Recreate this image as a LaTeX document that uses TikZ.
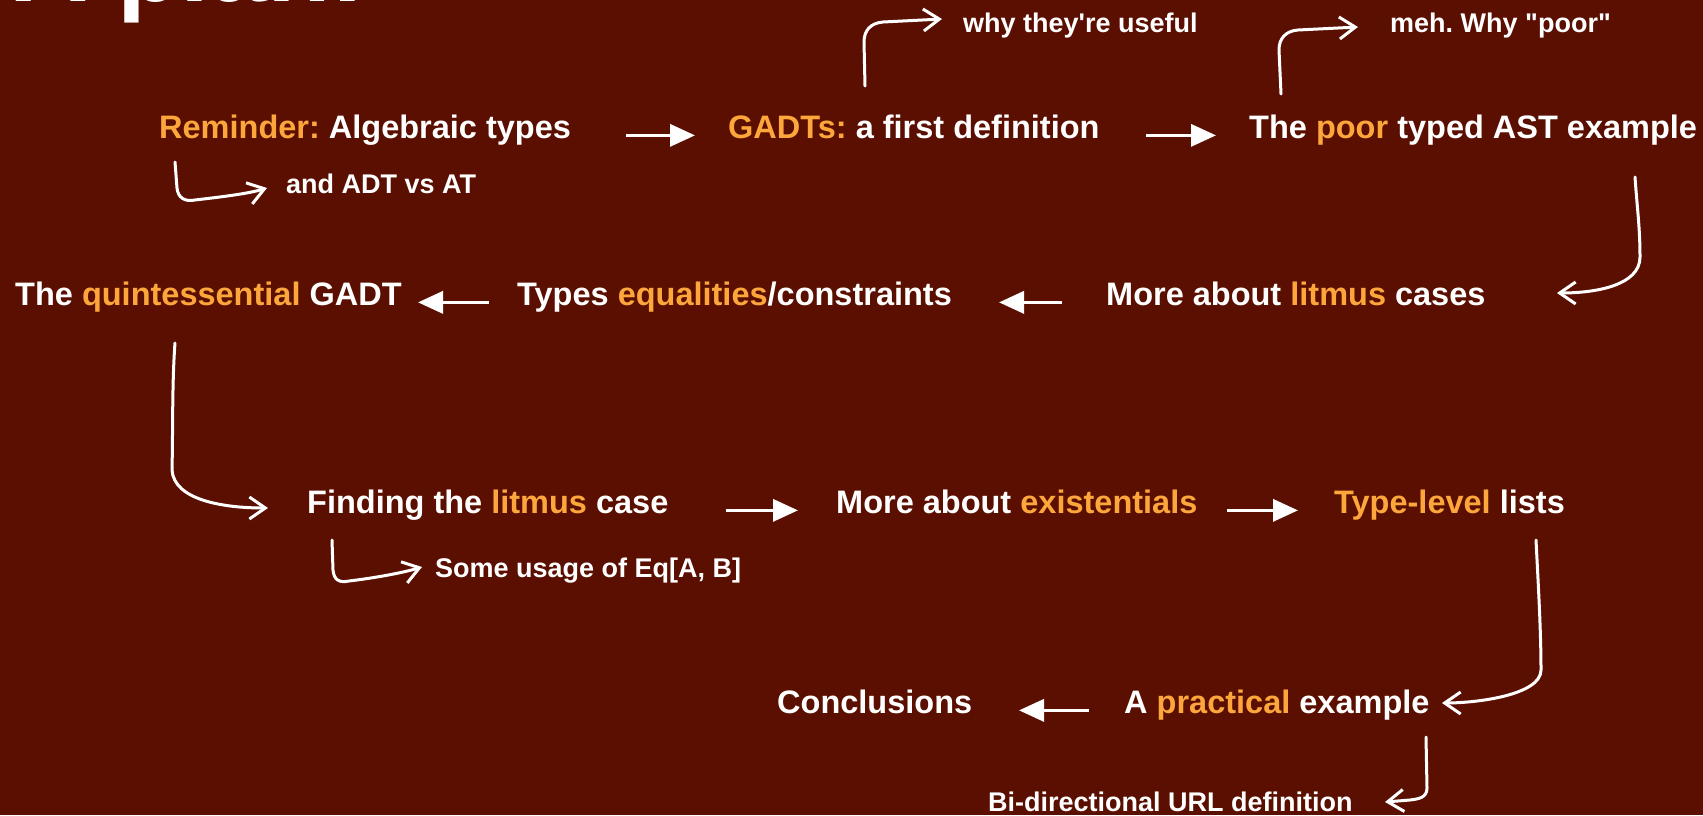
\documentclass[tikz,border=0pt]{standalone}
\usepackage{fontspec}
\setmainfont{Liberation Sans}
\usetikzlibrary{arrows.meta}
\definecolor{bg}{HTML}{5A0F00}
\definecolor{hl}{HTML}{FDA63C}
\newcommand{\hi}[1]{\textcolor{hl}{#1}}
\frenchspacing
\begin{document}
\begin{tikzpicture}[x=1pt,y=-1pt,
  txt/.style={inner sep=0pt, anchor=base west, text=white, font=\fontsize{32.5}{38}\selectfont\bfseries},
  small/.style={inner sep=0pt, anchor=base west, text=white, font=\fontsize{27}{32}\selectfont\bfseries},
  big/.style={inner sep=0pt, anchor=base west, text=white, font=\fontsize{104}{110}\selectfont\bfseries},
  flow/.style={white, line width=3.5pt, -{Triangle[length=25pt,width=22pt]}},
  curv/.style={white, line width=3pt, line cap=round, line join=round, -{Straight Barb[length=16pt,width=22pt,line width=3pt]}}]
\fill[bg] (0,0) rectangle (1703,815);
\useasboundingbox (0,0) rectangle (1703,815);
% title (cut off by the top edge, as in the reference)
\node[big] (title) at (13,1) {A plan:};
% main nodes
\node[txt] (n1) at (159,138) {\hi{Reminder:} Algebraic types};
\node[txt] (n2) at (728,138) {\hi{GADTs:} a first definition};
\node[txt] (n3) at (1249,138) {The \hi{poor} typed AST example};
\node[txt] (n4) at (15,305) {The \hi{quintessential} GADT};
\node[txt] (n5) at (517,305) {Types \hi{equalities}/constraints};
\node[txt] (n6) at (1106,305) {More about \hi{litmus} cases};
\node[txt] (n7) at (307,513) {Finding the \hi{litmus} case};
\node[txt] (n8) at (836,513) {More about \hi{existentials}};
\node[txt] (n9) at (1334,513) {\hi{Type-level} lists};
\node[txt] (n10) at (777,713) {Conclusions};
\node[txt] (n11) at (1124,713) {A \hi{practical} example};
% side notes
\node[small] (s1) at (286,193) {and ADT vs AT};
\node[small] (s2) at (963,32) {why they\textquotesingle re useful};
\node[small] (s3) at (1390,32) {meh. Why \textquotedbl poor\textquotedbl};
\node[small] (s4) at (435,577) {Some usage of Eq[A, B]};
\node[small] (s5) at (988,811) {Bi-directional URL definition};
% straight arrows
\draw[flow] ([xshift=467pt]n1.mid west) -- ([xshift=-33pt]n2.mid west);
\draw[flow] ([xshift=418pt]n2.mid west) -- ([xshift=-33pt]n3.mid west);
\draw[flow] ([xshift=-44pt]n6.mid west) -- ([xshift=482pt]n5.mid west);
\draw[flow] ([xshift=-28pt]n5.mid west) -- ([xshift=403pt]n4.mid west);
\draw[flow] ([xshift=419pt]n7.mid west) -- ([xshift=-38pt]n8.mid west);
\draw[flow] ([xshift=391pt]n8.mid west) -- ([xshift=-36pt]n9.mid west);
\draw[flow] ([xshift=-35pt]n11.mid west) -- ([xshift=242pt]n10.mid west);
% long curved connectors
\draw[curv] ([xshift=386pt,yshift=-39pt]n3.base west) .. controls +(2,30) and +(0,-30) .. ++(5,80)
  .. controls +(0,28) and +(40,0) .. ([xshift=451pt,yshift=12pt]n6.base west);
\draw[curv] ([xshift=160pt,yshift=-38pt]n4.base west) .. controls +(-3,40) and +(1,-40) .. ++(-3,127)
  .. controls +(2,30) and +(-45,0) .. ([xshift=-39pt,yshift=5pt]n7.base west);
\draw[curv] ([xshift=202pt,yshift=-27pt]n9.base west) .. controls +(2,40) and +(0,-40) .. ++(5,130)
  .. controls +(0,25) and +(35,0) .. ([xshift=318pt,yshift=10pt]n11.base west);
% side arrows
\draw[curv] ([xshift=16pt,yshift=-24pt]n1.base west) -- ++(2,26)
  .. controls +(1,10) and +(-10,2) .. ++(18,12)
  .. controls +(25,-3) and +(-20,6) .. ([xshift=-19pt,yshift=5pt]s1.base west);
\draw[curv] ([xshift=137pt,yshift=52pt]n2.base west) -- ++(-1,-44)
  .. controls +(0,-12) and +(-12,1) .. ++(19,-20) -- ([xshift=-21pt,yshift=13pt]s2.base west);
\draw[curv] ([xshift=32pt,yshift=44pt]n3.base west) -- ++(-2,-44)
  .. controls +(0,-12) and +(-12,1) .. ++(19,-20) -- ([xshift=-32pt,yshift=5pt]s3.base west);
\draw[curv] ([xshift=25pt,yshift=-27pt]n7.base west) -- ++(1,30)
  .. controls +(1,10) and +(-10,2) .. ++(16,11)
  .. controls +(25,-3) and +(-20,6) .. ([xshift=-13pt,yshift=10pt]s4.base west);
\draw[curv] ([xshift=302pt,yshift=-24pt]n11.base west) -- ++(1,51)
  .. controls +(0,10) and +(8,-1) .. ++(-17,12) -- ([xshift=397pt,yshift=9pt]s5.base west);
\end{tikzpicture}
\end{document}
